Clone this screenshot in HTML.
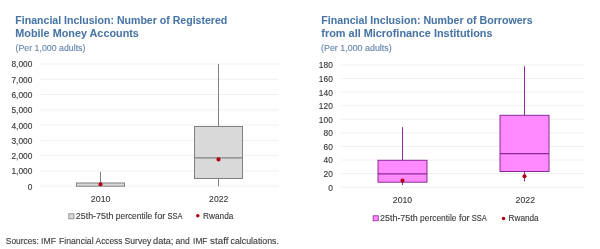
<!DOCTYPE html>
<html><head><meta charset="utf-8"><style>
html,body{margin:0;padding:0;background:#fff;width:600px;height:249px;overflow:hidden}
svg{display:block;filter:blur(0.3px);font-family:"Liberation Sans",sans-serif}
</style></head><body>
<svg width="600" height="249" viewBox="0 0 600 249">
<line x1="40.5" y1="186.20" x2="278.5" y2="186.20" stroke="#f0f0f0" stroke-width="1"/>
<g transform="translate(32.4,0) scale(0.93,1)"><text x="0" y="189.64999999999998" font-size="9" font-weight="normal" text-anchor="end" fill="#3a3a3a" stroke="#3a3a3a" stroke-width="0.15">0</text></g>
<line x1="40.5" y1="170.92" x2="278.5" y2="170.92" stroke="#f0f0f0" stroke-width="1"/>
<g transform="translate(32.4,0) scale(0.93,1)"><text x="0" y="174.37499999999997" font-size="9" font-weight="normal" text-anchor="end" fill="#3a3a3a" stroke="#3a3a3a" stroke-width="0.15">1,000</text></g>
<line x1="40.5" y1="155.65" x2="278.5" y2="155.65" stroke="#f0f0f0" stroke-width="1"/>
<g transform="translate(32.4,0) scale(0.93,1)"><text x="0" y="159.09999999999997" font-size="9" font-weight="normal" text-anchor="end" fill="#3a3a3a" stroke="#3a3a3a" stroke-width="0.15">2,000</text></g>
<line x1="40.5" y1="140.38" x2="278.5" y2="140.38" stroke="#f0f0f0" stroke-width="1"/>
<g transform="translate(32.4,0) scale(0.93,1)"><text x="0" y="143.825" font-size="9" font-weight="normal" text-anchor="end" fill="#3a3a3a" stroke="#3a3a3a" stroke-width="0.15">3,000</text></g>
<line x1="40.5" y1="125.10" x2="278.5" y2="125.10" stroke="#f0f0f0" stroke-width="1"/>
<g transform="translate(32.4,0) scale(0.93,1)"><text x="0" y="128.54999999999998" font-size="9" font-weight="normal" text-anchor="end" fill="#3a3a3a" stroke="#3a3a3a" stroke-width="0.15">4,000</text></g>
<line x1="40.5" y1="109.82" x2="278.5" y2="109.82" stroke="#f0f0f0" stroke-width="1"/>
<g transform="translate(32.4,0) scale(0.93,1)"><text x="0" y="113.27499999999999" font-size="9" font-weight="normal" text-anchor="end" fill="#3a3a3a" stroke="#3a3a3a" stroke-width="0.15">5,000</text></g>
<line x1="40.5" y1="94.55" x2="278.5" y2="94.55" stroke="#f0f0f0" stroke-width="1"/>
<g transform="translate(32.4,0) scale(0.93,1)"><text x="0" y="98.0" font-size="9" font-weight="normal" text-anchor="end" fill="#3a3a3a" stroke="#3a3a3a" stroke-width="0.15">6,000</text></g>
<line x1="40.5" y1="79.28" x2="278.5" y2="79.28" stroke="#f0f0f0" stroke-width="1"/>
<g transform="translate(32.4,0) scale(0.93,1)"><text x="0" y="82.72500000000001" font-size="9" font-weight="normal" text-anchor="end" fill="#3a3a3a" stroke="#3a3a3a" stroke-width="0.15">7,000</text></g>
<line x1="40.5" y1="64.00" x2="278.5" y2="64.00" stroke="#f0f0f0" stroke-width="1"/>
<g transform="translate(32.4,0) scale(0.93,1)"><text x="0" y="67.45" font-size="9" font-weight="normal" text-anchor="end" fill="#3a3a3a" stroke="#3a3a3a" stroke-width="0.15">8,000</text></g>
<line x1="341" y1="187.20" x2="584" y2="187.20" stroke="#f0f0f0" stroke-width="1"/>
<g transform="translate(332.8,0) scale(0.93,1)"><text x="0" y="190.64999999999998" font-size="9" font-weight="normal" text-anchor="end" fill="#3a3a3a" stroke="#3a3a3a" stroke-width="0.15">0</text></g>
<line x1="341" y1="173.62" x2="584" y2="173.62" stroke="#f0f0f0" stroke-width="1"/>
<g transform="translate(332.8,0) scale(0.93,1)"><text x="0" y="177.0722222222222" font-size="9" font-weight="normal" text-anchor="end" fill="#3a3a3a" stroke="#3a3a3a" stroke-width="0.15">20</text></g>
<line x1="341" y1="160.04" x2="584" y2="160.04" stroke="#f0f0f0" stroke-width="1"/>
<g transform="translate(332.8,0) scale(0.93,1)"><text x="0" y="163.4944444444444" font-size="9" font-weight="normal" text-anchor="end" fill="#3a3a3a" stroke="#3a3a3a" stroke-width="0.15">40</text></g>
<line x1="341" y1="146.47" x2="584" y2="146.47" stroke="#f0f0f0" stroke-width="1"/>
<g transform="translate(332.8,0) scale(0.93,1)"><text x="0" y="149.91666666666666" font-size="9" font-weight="normal" text-anchor="end" fill="#3a3a3a" stroke="#3a3a3a" stroke-width="0.15">60</text></g>
<line x1="341" y1="132.89" x2="584" y2="132.89" stroke="#f0f0f0" stroke-width="1"/>
<g transform="translate(332.8,0) scale(0.93,1)"><text x="0" y="136.33888888888887" font-size="9" font-weight="normal" text-anchor="end" fill="#3a3a3a" stroke="#3a3a3a" stroke-width="0.15">80</text></g>
<line x1="341" y1="119.31" x2="584" y2="119.31" stroke="#f0f0f0" stroke-width="1"/>
<g transform="translate(332.8,0) scale(0.93,1)"><text x="0" y="122.7611111111111" font-size="9" font-weight="normal" text-anchor="end" fill="#3a3a3a" stroke="#3a3a3a" stroke-width="0.15">100</text></g>
<line x1="341" y1="105.73" x2="584" y2="105.73" stroke="#f0f0f0" stroke-width="1"/>
<g transform="translate(332.8,0) scale(0.93,1)"><text x="0" y="109.18333333333334" font-size="9" font-weight="normal" text-anchor="end" fill="#3a3a3a" stroke="#3a3a3a" stroke-width="0.15">120</text></g>
<line x1="341" y1="92.16" x2="584" y2="92.16" stroke="#f0f0f0" stroke-width="1"/>
<g transform="translate(332.8,0) scale(0.93,1)"><text x="0" y="95.60555555555557" font-size="9" font-weight="normal" text-anchor="end" fill="#3a3a3a" stroke="#3a3a3a" stroke-width="0.15">140</text></g>
<line x1="341" y1="78.58" x2="584" y2="78.58" stroke="#f0f0f0" stroke-width="1"/>
<g transform="translate(332.8,0) scale(0.93,1)"><text x="0" y="82.02777777777779" font-size="9" font-weight="normal" text-anchor="end" fill="#3a3a3a" stroke="#3a3a3a" stroke-width="0.15">160</text></g>
<line x1="341" y1="65.00" x2="584" y2="65.00" stroke="#f0f0f0" stroke-width="1"/>
<g transform="translate(332.8,0) scale(0.93,1)"><text x="0" y="68.45" font-size="9" font-weight="normal" text-anchor="end" fill="#3a3a3a" stroke="#3a3a3a" stroke-width="0.15">180</text></g>
<line x1="100.5" y1="171.7" x2="100.5" y2="186.2" stroke="#808080" stroke-width="1"/><rect x="76.5" y="183.0" width="48" height="3.1999999999999886" fill="#d9d9d9" stroke="#808080" stroke-width="1"/><circle cx="100.5" cy="184.3" r="2.05" fill="#b00010"/>
<line x1="218.5" y1="64.0" x2="218.5" y2="186.2" stroke="#808080" stroke-width="1"/><rect x="194.5" y="126.5" width="48" height="52.0" fill="#d9d9d9" stroke="#808080" stroke-width="1"/><line x1="194.5" y1="157.9" x2="242.5" y2="157.9" stroke="#808080" stroke-width="1.2"/><circle cx="218.5" cy="159.4" r="2.05" fill="#b00010"/>
<line x1="402.5" y1="127.2" x2="402.5" y2="185.0" stroke="#8a2a96" stroke-width="1"/><rect x="378.0" y="160.3" width="49" height="21.899999999999977" fill="#ff8aff" stroke="#8a2a96" stroke-width="1"/><line x1="378.0" y1="173.9" x2="427.0" y2="173.9" stroke="#8a2a96" stroke-width="1.2"/><circle cx="402.5" cy="180.6" r="2.05" fill="#b00010"/>
<line x1="524.5" y1="66.3" x2="524.5" y2="181.5" stroke="#8a2a96" stroke-width="1"/><rect x="500.0" y="115.3" width="49" height="56.2" fill="#ff8aff" stroke="#8a2a96" stroke-width="1"/><line x1="500.0" y1="153.6" x2="549.0" y2="153.6" stroke="#8a2a96" stroke-width="1.2"/><circle cx="524.5" cy="176.3" r="2.05" fill="#b00010"/>
<text x="90.80" y="202" font-size="9.1" font-weight="normal" fill="#3a3a3a" stroke="#3a3a3a" stroke-width="0.12" textLength="19.70" lengthAdjust="spacingAndGlyphs">2010</text>
<text x="209.10" y="202" font-size="9.1" font-weight="normal" fill="#3a3a3a" stroke="#3a3a3a" stroke-width="0.12" textLength="19.30" lengthAdjust="spacingAndGlyphs">2022</text>
<text x="392.80" y="203.2" font-size="9.1" font-weight="normal" fill="#3a3a3a" stroke="#3a3a3a" stroke-width="0.12" textLength="19.40" lengthAdjust="spacingAndGlyphs">2010</text>
<text x="515.60" y="203.2" font-size="9.1" font-weight="normal" fill="#3a3a3a" stroke="#3a3a3a" stroke-width="0.12" textLength="19.40" lengthAdjust="spacingAndGlyphs">2022</text>
<text x="15.35" y="23.5" font-size="10.4" font-weight="bold" fill="#4875a5" stroke="#4875a5" stroke-width="0.05" textLength="211.95" lengthAdjust="spacingAndGlyphs">Financial Inclusion: Number of Registered</text>
<text x="15.35" y="37.1" font-size="10.4" font-weight="bold" fill="#4875a5" stroke="#4875a5" stroke-width="0.05" textLength="123.55" lengthAdjust="spacingAndGlyphs">Mobile Money Accounts</text>
<text x="15.60" y="51.2" font-size="8.3" font-weight="normal" fill="#6486ad" stroke="#6486ad" stroke-width="0.12" textLength="69.80" lengthAdjust="spacingAndGlyphs">(Per 1,000 adults)</text>
<text x="321.35" y="23.5" font-size="10.4" font-weight="bold" fill="#4875a5" stroke="#4875a5" stroke-width="0.05" textLength="211.25" lengthAdjust="spacingAndGlyphs">Financial Inclusion: Number of Borrowers</text>
<text x="321.35" y="37.1" font-size="10.4" font-weight="bold" fill="#4875a5" stroke="#4875a5" stroke-width="0.05" textLength="171.25" lengthAdjust="spacingAndGlyphs">from all Microfinance Institutions</text>
<text x="321.00" y="51.2" font-size="8.3" font-weight="normal" fill="#6486ad" stroke="#6486ad" stroke-width="0.12" textLength="70.70" lengthAdjust="spacingAndGlyphs">(Per 1,000 adults)</text>
<rect x="68.8" y="213.8" width="5.2" height="5" fill="#d9d9d9" stroke="#808080" stroke-width="0.8"/>
<text x="75.80" y="218.8" font-size="8.8" font-weight="normal" fill="#3a3a3a" stroke="#3a3a3a" stroke-width="0.12" textLength="37.60" lengthAdjust="spacingAndGlyphs">25th-75th</text><text x="115.80" y="218.8" font-size="8.8" font-weight="normal" fill="#3a3a3a" stroke="#3a3a3a" stroke-width="0.12" textLength="36.40" lengthAdjust="spacingAndGlyphs">percentile</text><text x="154.60" y="218.8" font-size="8.8" font-weight="normal" fill="#3a3a3a" stroke="#3a3a3a" stroke-width="0.12" textLength="10.80" lengthAdjust="spacingAndGlyphs">for</text><text x="167.40" y="218.8" font-size="8.8" font-weight="normal" fill="#3a3a3a" stroke="#3a3a3a" stroke-width="0.12" textLength="15.00" lengthAdjust="spacingAndGlyphs">SSA</text>
<circle cx="197.8" cy="215.8" r="1.75" fill="#b00010"/>
<text x="203.10" y="218.8" font-size="8.8" font-weight="normal" fill="#3a3a3a" stroke="#3a3a3a" stroke-width="0.12" textLength="30.30" lengthAdjust="spacingAndGlyphs">Rwanda</text>
<rect x="373.1" y="215.8" width="5.2" height="5" fill="#ff8aff" stroke="#8a2a96" stroke-width="0.8"/>
<text x="380.10" y="221.10000000000002" font-size="8.8" font-weight="normal" fill="#3a3a3a" stroke="#3a3a3a" stroke-width="0.12" textLength="37.60" lengthAdjust="spacingAndGlyphs">25th-75th</text><text x="420.10" y="221.10000000000002" font-size="8.8" font-weight="normal" fill="#3a3a3a" stroke="#3a3a3a" stroke-width="0.12" textLength="36.40" lengthAdjust="spacingAndGlyphs">percentile</text><text x="458.90" y="221.10000000000002" font-size="8.8" font-weight="normal" fill="#3a3a3a" stroke="#3a3a3a" stroke-width="0.12" textLength="10.80" lengthAdjust="spacingAndGlyphs">for</text><text x="471.70" y="221.10000000000002" font-size="8.8" font-weight="normal" fill="#3a3a3a" stroke="#3a3a3a" stroke-width="0.12" textLength="15.00" lengthAdjust="spacingAndGlyphs">SSA</text>
<circle cx="503.5" cy="218.5" r="1.75" fill="#b00010"/>
<text x="508.60" y="221.10000000000002" font-size="8.8" font-weight="normal" fill="#3a3a3a" stroke="#3a3a3a" stroke-width="0.12" textLength="30.00" lengthAdjust="spacingAndGlyphs">Rwanda</text>
<text x="5.80" y="243.8" font-size="9.4" font-weight="normal" fill="#3a3a3a" stroke="#3a3a3a" stroke-width="0.12" textLength="33.10" lengthAdjust="spacingAndGlyphs">Sources:</text><text x="41.10" y="243.8" font-size="9.4" font-weight="normal" fill="#3a3a3a" stroke="#3a3a3a" stroke-width="0.12" textLength="14.80" lengthAdjust="spacingAndGlyphs">IMF</text><text x="59.10" y="243.8" font-size="9.4" font-weight="normal" fill="#3a3a3a" stroke="#3a3a3a" stroke-width="0.12" textLength="34.50" lengthAdjust="spacingAndGlyphs">Financial</text><text x="95.60" y="243.8" font-size="9.4" font-weight="normal" fill="#3a3a3a" stroke="#3a3a3a" stroke-width="0.12" textLength="26.80" lengthAdjust="spacingAndGlyphs">Access</text><text x="124.60" y="243.8" font-size="9.4" font-weight="normal" fill="#3a3a3a" stroke="#3a3a3a" stroke-width="0.12" textLength="26.80" lengthAdjust="spacingAndGlyphs">Survey</text><text x="153.10" y="243.8" font-size="9.4" font-weight="normal" fill="#3a3a3a" stroke="#3a3a3a" stroke-width="0.12" textLength="20.30" lengthAdjust="spacingAndGlyphs">data;</text><text x="175.60" y="243.8" font-size="9.4" font-weight="normal" fill="#3a3a3a" stroke="#3a3a3a" stroke-width="0.12" textLength="14.30" lengthAdjust="spacingAndGlyphs">and</text><text x="193.10" y="243.8" font-size="9.4" font-weight="normal" fill="#3a3a3a" stroke="#3a3a3a" stroke-width="0.12" textLength="14.30" lengthAdjust="spacingAndGlyphs">IMF</text><text x="210.10" y="243.8" font-size="9.4" font-weight="normal" fill="#3a3a3a" stroke="#3a3a3a" stroke-width="0.12" textLength="18.30" lengthAdjust="spacingAndGlyphs">staff</text><text x="230.60" y="243.8" font-size="9.4" font-weight="normal" fill="#3a3a3a" stroke="#3a3a3a" stroke-width="0.12" textLength="48.30" lengthAdjust="spacingAndGlyphs">calculations.</text>
</svg>
</body></html>
